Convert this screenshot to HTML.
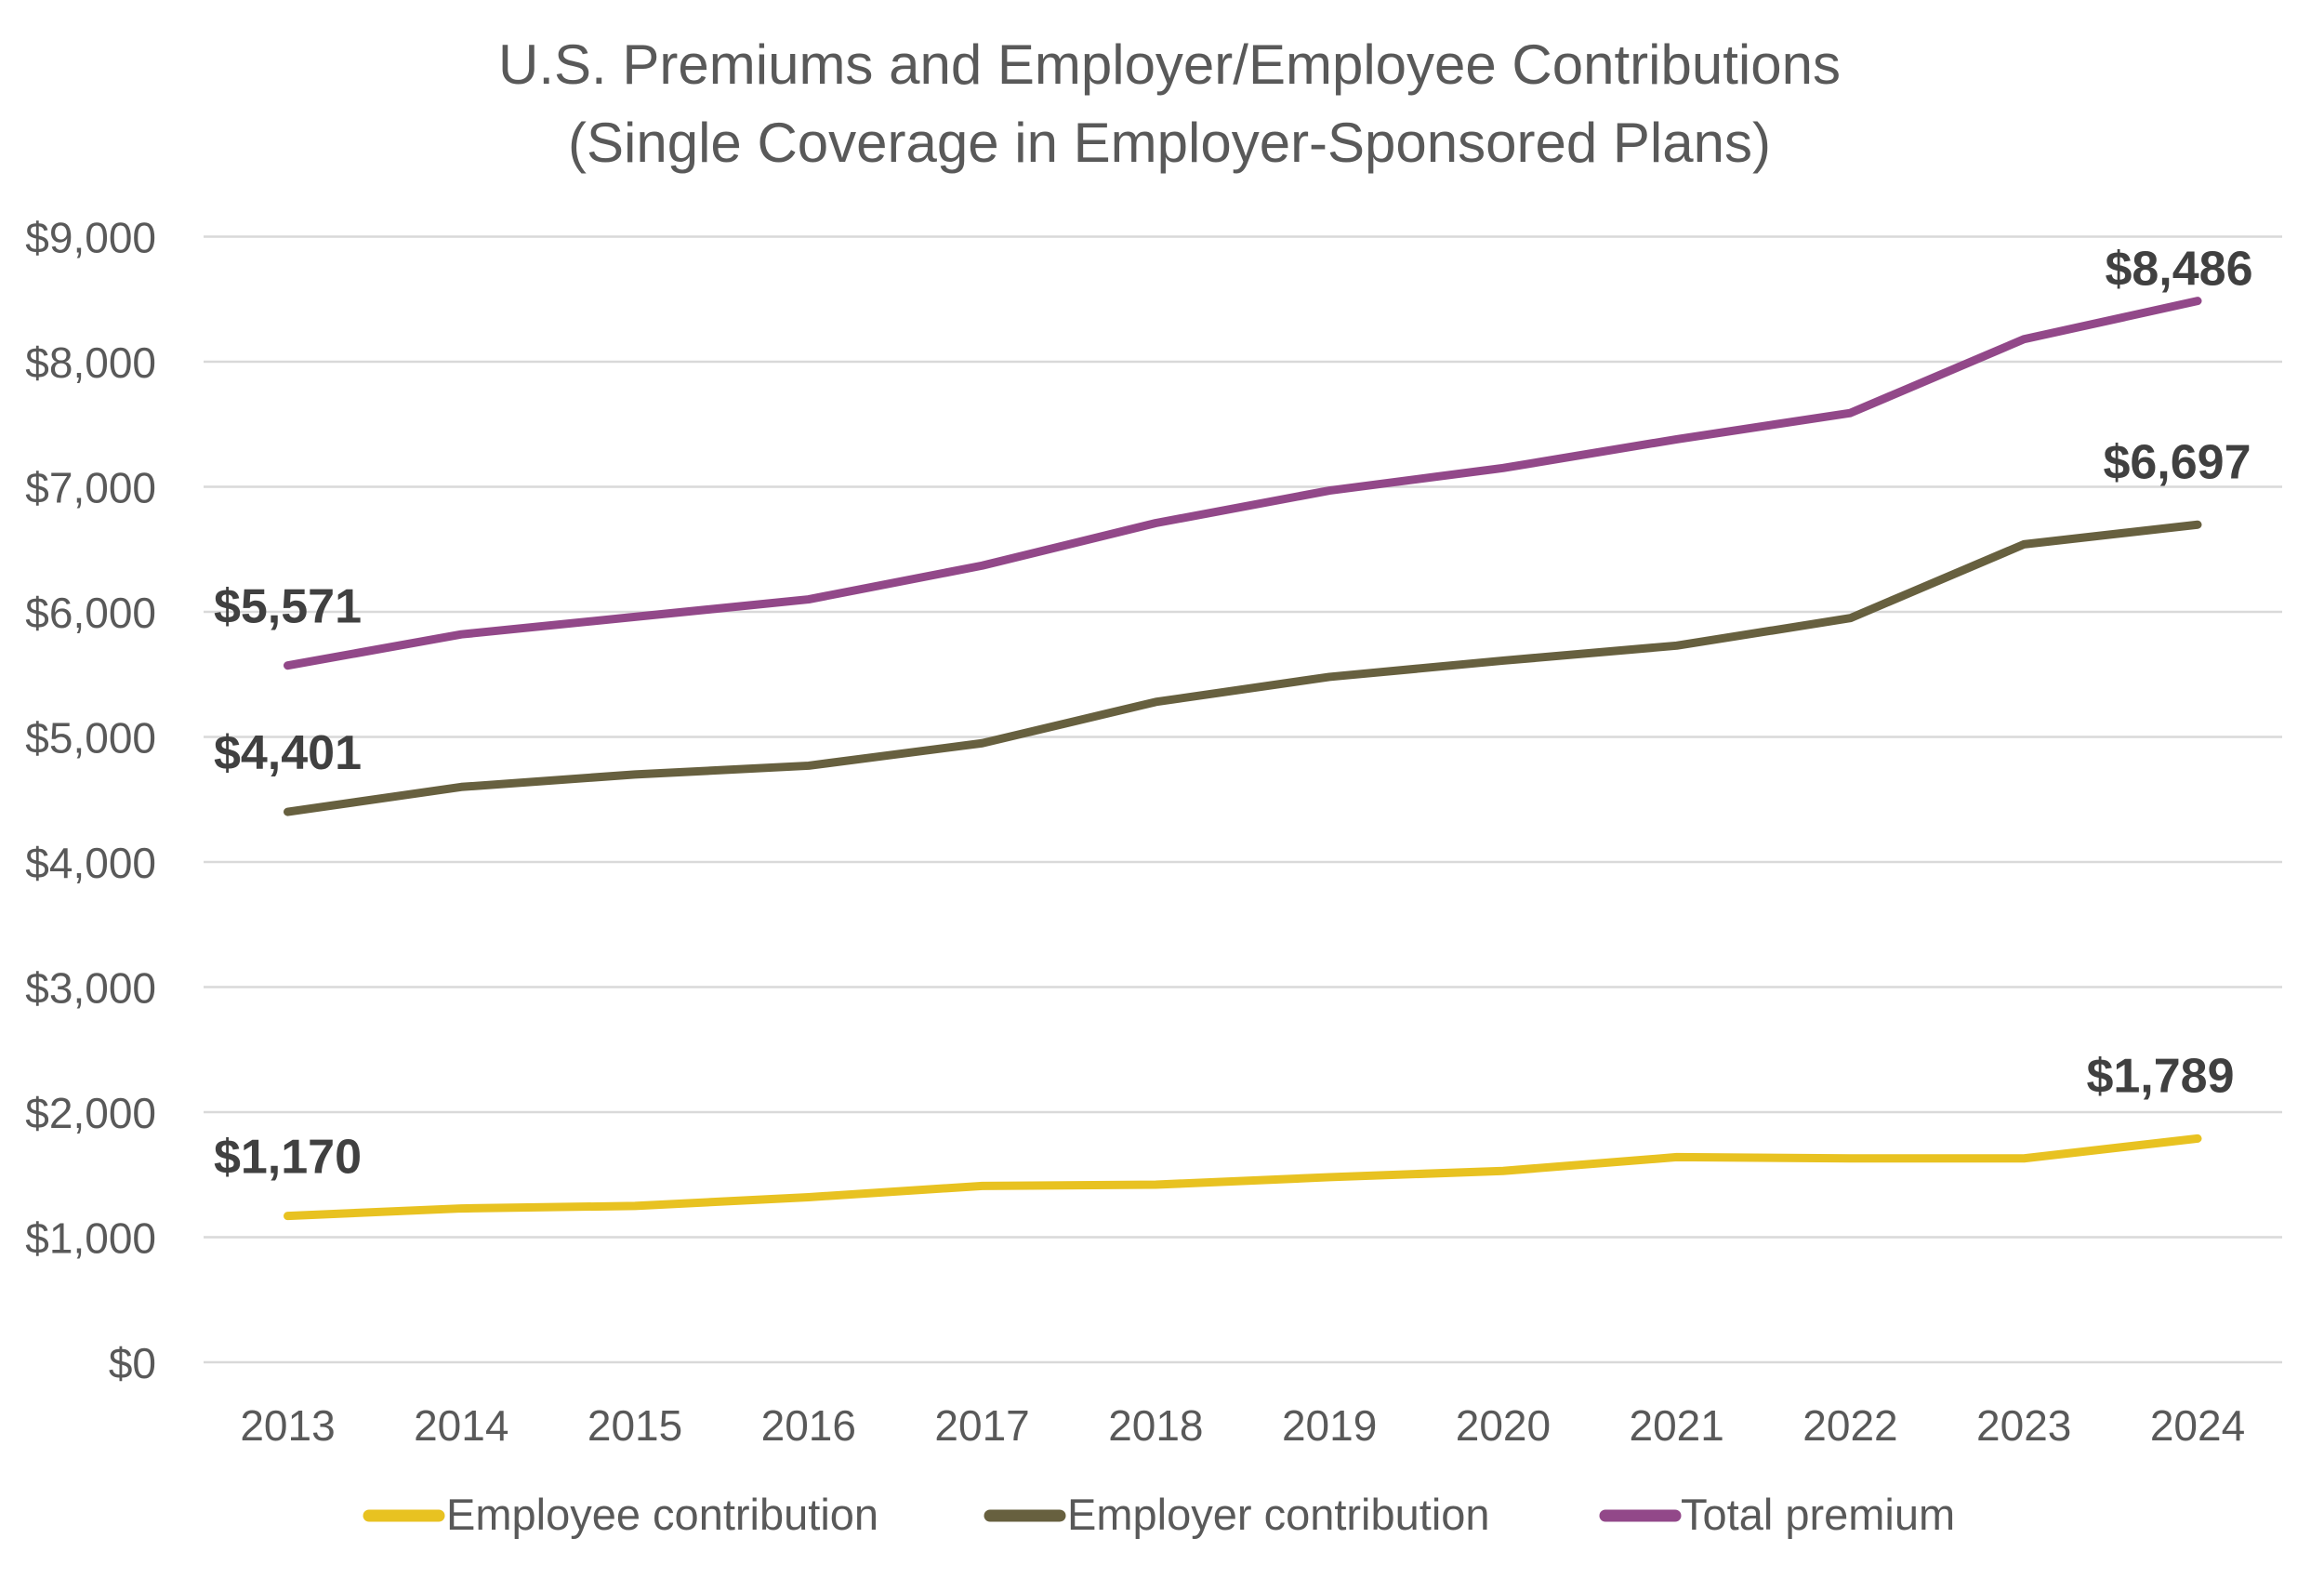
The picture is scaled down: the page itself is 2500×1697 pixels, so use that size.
<!DOCTYPE html>
<html><head><meta charset="utf-8"><style>
html,body{margin:0;padding:0;background:#fff;}
svg{display:block;font-family:"Liberation Sans",sans-serif;}
</style></head><body>
<svg id="chart" width="2500" height="1697" viewBox="0 0 2500 1697" xmlns="http://www.w3.org/2000/svg">
<rect width="2500" height="1697" fill="#fff"/>
<text x="1258" y="90" text-anchor="middle" font-size="60" fill="#595959">U.S. Premiums and Employer/Employee Contributions</text>
<text x="1258" y="174" text-anchor="middle" font-size="60" fill="#595959">(Single Coverage in Employer-Sponsored Plans)</text>
<g id="grid"></g><g id="yticks"></g><g id="xticks"></g><g id="series"></g><g id="labels"></g>
<g>
<line x1="397" y1="1630" x2="472" y2="1630" stroke="#E8C221" stroke-width="13" stroke-linecap="round"/>
<text x="480" y="1645" font-size="47" fill="#595959">Employee contribution</text>
<line x1="1065" y1="1630" x2="1140" y2="1630" stroke="#67603F" stroke-width="13" stroke-linecap="round"/>
<text x="1148" y="1645" font-size="47" fill="#595959">Employer contribution</text>
<line x1="1727" y1="1630" x2="1802" y2="1630" stroke="#924889" stroke-width="13" stroke-linecap="round"/>
<text x="1808" y="1645" font-size="47" fill="#595959">Total premium</text>
</g>
</svg>
<script>
const years = ["2013","2014","2015","2016","2017","2018","2019","2020","2021","2022","2023","2024"];
const employee = [1170,1230,1250,1320,1410,1420,1480,1530,1640,1630,1630,1789];
const employer = [4401,4600,4700,4770,4950,5280,5480,5610,5730,5950,6540,6697];
const total = [5571,5820,5960,6100,6370,6710,6970,7150,7380,7590,8180,8486];
const yTicks = [0,1000,2000,3000,4000,5000,6000,7000,8000,9000];
const yTickLabels = ["$0","$1,000","$2,000","$3,000","$4,000","$5,000","$6,000","$7,000","$8,000","$9,000"];

const NS="http://www.w3.org/2000/svg";
const y0=1465, yTop=254.5, left=219, right=2455;
const xStart=309.5, xEnd=2364;
function xs(i){return xStart+(xEnd-xStart)*i/(years.length-1);}
function ys(v){return y0-(y0-yTop)*v/9000;}
function mk(tag,attrs,parent){const e=document.createElementNS(NS,tag);for(const k in attrs)e.setAttribute(k,attrs[k]);parent.appendChild(e);return e;}

const grid=document.getElementById('grid'), yt=document.getElementById('yticks'), xt=document.getElementById('xticks');
yTicks.forEach((v,i)=>{
  const l=mk('line',{x1:left,x2:right,y1:ys(v),y2:ys(v),stroke:'#d9d9d9','stroke-width':2.5},grid);
  
  
  const t=mk('text',{x:168,y:ys(v)+17,'text-anchor':'end','font-size':46,fill:'#595959'},yt);
  t.textContent=yTickLabels[i];
  
  
});
years.forEach((yr,i)=>{
  const t=mk('text',{x:xs(i),y:1549,'text-anchor':'middle','font-size':46,fill:'#595959'},xt);
  t.textContent=yr;
  
  
});
const ser=document.getElementById('series');
[[employee,'#E8C221','employee-line'],[employer,'#67603F','employer-line'],[total,'#924889','total-premium-line']].forEach(([d,c,n])=>{
  const p=mk('polyline',{points:d.map((v,i)=>xs(i)+','+ys(v)).join(' '),fill:'none',stroke:c,'stroke-width':9,'stroke-linejoin':'round','stroke-linecap':'round'},ser);
  
  
});
const lab=document.getElementById('labels');
function fmt(v){return '$'+v.toLocaleString('en-US');}
[[total,'total',-20,35],[employer,'employer',-22,68],[employee,'employee',-40,68]].forEach(([d,n,endDx,endDy])=>{
  [0,d.length-1].forEach(i=>{
    const dx = i===0?0:endDx;
    const dy = i===0?64:endDy;
    const t=mk('text',{x:xs(i)+dx,y:ys(d[i])-dy+18,'text-anchor':'middle','font-size':52,'font-weight':'bold',fill:'#404040'},lab);
    t.textContent=fmt(d[i]);
    
    
  });
});
</script>
</body></html>
